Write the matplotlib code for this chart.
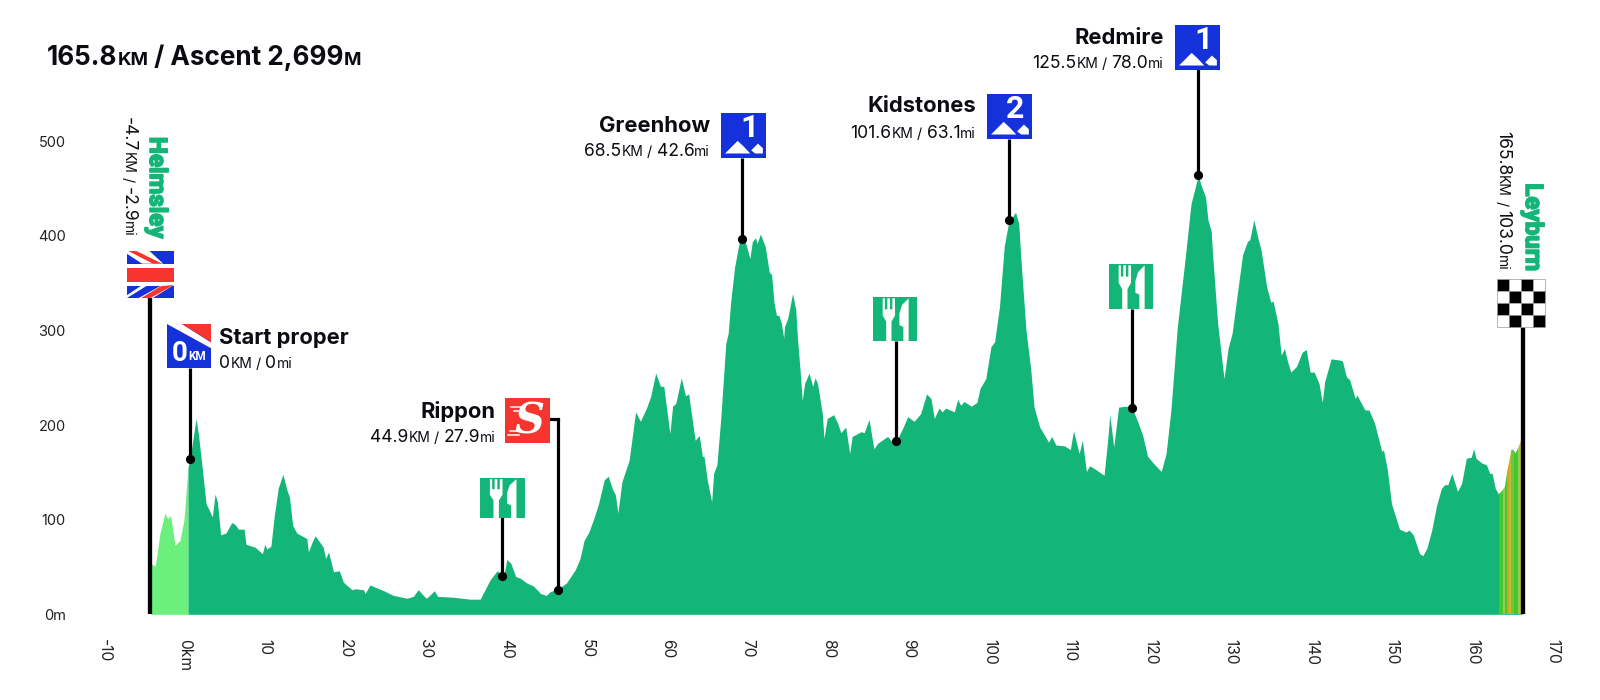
import numpy as np
import matplotlib
matplotlib.use('Agg')
import matplotlib.pyplot as plt
import matplotlib.patheffects as pe
from matplotlib.patches import Polygon, Rectangle
from matplotlib.transforms import ScaledTranslation

# route profile, km from official start / metres
route_km = [-4.7, -4.06, -3.48, -2.86, -2.53, -2.15, -1.62, -1.0, -0.5, 0.0, 0.2, 0.5, 1.0, 1.3, 1.7, 2.24, 2.53,
            3.02, 3.36, 3.65, 4.06, 4.72, 5.43, 5.85, 6.26, 6.97, 7.2, 8.33, 9.24, 9.54, 9.79, 10.3, 10.7, 11.2,
            11.78, 12.3, 12.6, 13.0, 13.5, 14.76, 14.96, 15.4, 15.8, 16.8, 17.1, 17.46, 18.07, 18.8, 19.3, 20.36,
            20.8, 21.8, 22.0, 22.6, 24.3, 25.5, 27.2, 28.0, 28.6, 29.35, 29.6, 29.9, 30.6, 31.0, 33.0, 35.0, 36.3,
            36.9, 37.5, 38.4, 39.05, 39.2, 39.6, 40.1, 40.7, 41.3, 42.1, 42.9, 43.8, 44.5, 45.0, 46.0, 47.0, 48.1,
            48.7, 49.2, 49.8, 50.4, 51.0, 51.7, 52.2, 52.7, 53.1, 53.4, 53.9, 54.8, 55.6, 56.2, 57.0, 57.46, 58.1,
            58.7, 59.1, 59.86, 60.2, 60.6, 61.28, 61.8, 62.2, 62.4, 63.0, 63.5, 63.9, 64.1, 64.5, 65.05, 65.3,
            65.7, 66.2, 66.8, 67.1, 67.4, 67.9, 68.45, 68.8, 69.2, 69.45, 69.8, 70.1, 70.5, 70.7, 71.1, 71.7,
            72.2, 72.5, 72.8, 73.1, 73.4, 73.7, 74.0, 74.1, 74.5, 75.1, 75.5, 75.7, 76.1, 76.3, 76.6, 77.15,
            77.6, 77.9, 78.2, 78.8, 79.0, 79.4, 80.2, 80.7, 81.1, 81.7, 82.2, 82.5, 83.6, 84.0, 84.6, 85.2, 85.7,
            86.9, 87.5, 88.0, 88.8, 89.4, 90.2, 91.0, 91.75, 92.3, 92.7, 93.3, 93.7, 94.1, 95.2, 95.6, 96.0, 96.4,
            97.3, 98.0, 98.4, 99.1, 99.75, 100.2, 100.8, 101.4, 102.0, 102.4, 102.8, 103.2, 103.5, 104.1, 104.7,
            105.1, 105.8, 106.9, 107.3, 107.8, 108.9, 109.6, 110.0, 110.7, 111.1, 111.6, 112.0, 112.6, 113.8,
            114.3, 114.5, 115.0, 115.6, 116.5, 117.3, 118.0, 118.6, 119.2, 120.0, 120.9, 121.5, 122.1, 122.9,
            123.8, 124.6, 125.5, 125.8, 126.4, 126.7, 127.1, 127.3, 127.9, 128.7, 129.2, 129.7, 130.4, 131.0,
            131.6, 131.9, 132.4, 132.9, 133.3, 134.0, 134.5, 134.8, 135.4, 135.8, 136.2, 136.6, 137.0, 137.7,
            138.4, 138.9, 139.4, 139.9, 140.5, 140.9, 141.2, 142.0, 142.9, 143.4, 143.9, 144.3, 145.0, 145.2,
            146.2, 146.7, 147.4, 148.3, 148.5, 149.0, 149.5, 150.5, 151.3, 151.7, 152.2, 153.0, 153.4, 153.9,
            154.5, 155.1, 155.7, 156.1, 156.5, 157.0, 157.7, 158.2, 158.8, 159.4, 159.7, 160.0, 160.7, 161.3,
            161.7, 162.0, 162.4, 162.8, 163.2, 163.6, 163.9, 164.4, 164.6, 164.9, 165.3, 165.8]
route_m = [54, 51, 86, 107, 101, 104, 73, 78, 100, 155, 164, 178, 207, 190, 160, 117, 112,
           103, 127, 119, 84, 86, 97, 95, 90, 90, 74, 71, 64, 74, 69, 72, 103, 133,
           148, 131, 124, 94, 86, 80, 66, 76, 83, 71, 59, 66, 45, 46, 34, 26,
           27, 26, 22, 31, 25, 20, 17, 19, 26, 19, 17, 19, 25, 19, 18, 16, 16,
           26, 36, 46, 41, 39, 58, 54, 40, 38, 33, 30, 22, 20, 24, 27, 33, 47,
           59, 78, 87, 101, 117, 142, 146, 133, 126, 107, 140, 163, 214, 204, 219, 230, 255,
           241, 241, 191, 220, 223, 250, 231, 233, 220, 184, 189, 167, 167, 142, 119, 149,
           158, 209, 286, 297, 329, 367, 392, 397, 394, 387, 376, 394, 398, 392, 402, 389,
           362, 359, 329, 316, 316, 308, 292, 304, 313, 339, 322, 293, 251, 226, 244, 255,
           241, 250, 244, 212, 186, 207, 211, 202, 192, 198, 170, 188, 193, 192, 206, 175, 181,
           188, 182, 183, 197, 209, 204, 212, 233, 228, 207, 218, 214, 218, 214, 227, 221, 225,
           220, 224, 239, 249, 283, 288, 325, 389, 417, 420, 425, 413, 371, 300, 258,
           219, 198, 182, 188, 179, 178, 174, 194, 170, 184, 151, 157, 154, 147,
           189, 211, 177, 219, 220, 218, 203, 189, 167, 159, 151, 170, 216, 304,
           371, 434, 464, 455, 441, 417, 405, 378, 308, 249, 281, 297, 342, 380,
           394, 396, 417, 398, 385, 346, 330, 331, 307, 274, 281, 267, 256, 262,
           277, 280, 256, 256, 244, 224, 246, 270, 269, 268, 251, 248, 228, 232,
           216, 216, 202, 172, 174, 152, 117, 90, 87, 89, 84, 64, 62, 70,
           89, 115, 133, 137, 137, 149, 130, 138, 165, 166, 175, 165, 160, 158,
           149, 149, 133, 127, 130, 135, 152, 174, 174, 170, 177, 188]

x_ticks = list(range(-10, 180, 10))
x_tick_labels = ['-10', '0km'] + [str(v) for v in range(10, 180, 10)]
y_ticks = [0, 100, 200, 300, 400, 500]
y_tick_labels = ['0m', '100', '200', '300', '400', '500']

# steep finish stripes: edges in km and one colour for each stripe
finish_edges = [162.8, 163.4, 163.6, 163.8, 164.1, 164.35, 164.75, 165.25, 165.45, 165.8]
finish_colors = ['#45c72d', '#8fce5a', '#45c72d', '#d6a024', '#b9bd35', '#6cc73f', '#45c72d', '#8fce5a', '#c4bc3c']

climb_names = ['Greenhow', 'Kidstones', 'Redmire']
climb_cat = ['1', '2', '1']
climb_km = [68.8, 102.0, 125.5]
climb_m = [397, 417, 464]
climb_km_text = ['68.5', '101.6', '125.5']
climb_mi_text = ['42.6', '63.1', '78.0']

feed_km = [39.05, 88.0, 117.3]
feed_m = [41, 183, 218]

start_km, start_m = 0.2, 164
sprint_km, sprint_m = 46.0, 26
first_km, last_km = -4.7, 165.8

GREEN = '#13b579'
LIGHT = '#6bf07d'
BLUE = '#1532da'
RED = '#f5352e'
INK = '#0b0b12'
SANS = ['Inter', 'DejaVu Sans']
NARROW = ['Roboto', 'DejaVu Sans']

W, H = 1600, 700
X0, X_SCALE = 188.0, 8.05     # pixel of km 0, pixels per km
Y0, Y_SCALE = 614.3, 0.946    # pixel of 0 m, pixels per metre

fig = plt.figure(figsize=(W / 100, H / 100), dpi=100, facecolor='white')
left = X0 - 10 * X_SCALE
ax = fig.add_axes([left / W, (H - Y0) / H, 180 * X_SCALE / W, 640 * Y_SCALE / H])
ax.set_xlim(-10, 170)
ax.set_ylim(0, 640)
ax.patch.set_alpha(0)
for s in ax.spines.values():
    s.set_visible(False)

km = np.array(route_km)
elev = np.array(route_m)

ax.fill_between(km, 0, elev, where=km <= 0, color=LIGHT, lw=0, interpolate=False)
area = ax.fill_between(km, 0, elev, where=km >= 0, color=GREEN, lw=0, interpolate=False)
clip = area.get_paths()[0]
for a, b, c in zip(finish_edges[:-1], finish_edges[1:], finish_colors):
    span = ax.axvspan(a, b, color=c, lw=0)
    span.set_clip_path(clip, ax.transData)

ax.set_xticks(x_ticks)
ax.set_xticklabels(x_tick_labels, rotation=-90, family=SANS, fontsize=11.2, color='#222222')
ax.set_yticks(y_ticks)
ax.set_yticklabels(y_tick_labels, family=SANS, fontsize=10.5, color='#222222')
ax.tick_params(axis='x', length=0, pad=18)
ax.tick_params(axis='y', length=0, pad=30)
shift = ScaledTranslation(-3.5 / 72 * 0.72, 0, fig.dpi_scale_trans)
for lab in ax.get_xticklabels():
    lab.set_transform(lab.get_transform() + shift)


def m_at(py):
    return (Y0 - py) / Y_SCALE


# stems and dots
def stem(k, m, top_px, lw=2.3):
    ax.plot([k, k], [m, m_at(top_px)], color='black', lw=lw, solid_capstyle='butt', clip_on=False, zorder=5)
    ax.plot([k], [m], 'o', color='black', ms=6.6, mew=0, clip_on=False, zorder=6)


ax.plot([first_km, first_km], [0, m_at(298)], color='black', lw=3.1, solid_capstyle='butt', zorder=5, clip_on=False)
ax.plot([last_km, last_km], [0, m_at(326)], color='black', lw=3.1, solid_capstyle='butt', zorder=5, clip_on=False)
stem(start_km, start_m, 368)
for k, m, top in zip(feed_km, feed_m, [517, 341, 309]):
    stem(k, m, top)
for k, m, top in zip(climb_km, climb_m, [158, 139, 69]):
    stem(k, m, top)
stem(sprint_km, sprint_m, 419)
ax.plot([sprint_km, sprint_km - 1.1], [m_at(419), m_at(419)], color='black', lw=2.3, clip_on=False, zorder=5)

# overlay in pixel space for the icons and the mixed size labels
ov = fig.add_axes([0, 0, 1, 1])
ov.set_xlim(0, W)
ov.set_ylim(H, 0)
ov.axis('off')
rend = fig.canvas.get_renderer()


def run_width(s, size, weight, family):
    t1 = ov.text(0, 0, 'x' + s + 'x', fontsize=size, fontweight=weight, family=family)
    t2 = ov.text(0, 0, 'xx', fontsize=size, fontweight=weight, family=family)
    w = t1.get_window_extent(rend).width - t2.get_window_extent(rend).width
    t1.remove()
    t2.remove()
    return w


def put_runs(x, y, runs, align='left', vertical=False, color=INK, family=SANS, stroke=0):
    widths = [run_width(s, size, weight, family) for s, size, weight in runs]
    total = sum(widths)
    pos = y if vertical else x
    if align == 'right':
        pos -= total
    for (s, size, weight), w in zip(runs, widths):
        px, py = (x, pos) if vertical else (pos, y)
        t = ov.text(px, py, s, fontsize=size, fontweight=weight, family=family, color=color, ha='left', va='baseline',
                    rotation=-90 if vertical else 0, rotation_mode='anchor')
        if stroke:
            t.set_path_effects([pe.withStroke(linewidth=stroke, foreground=color)])
        pos += w


def dist_runs(km_text, mi_text, big=12.6, small=10):
    return [(km_text, big, 'normal'), ('KM', small, 'normal'), (' / ', 10.4, 'normal'),
            (mi_text, big, 'normal'), ('mi', small, 'normal')]


def poly(x, y, w, h, pts, color='white'):
    ov.add_patch(Polygon([(x + w * a, y + h * b) for a, b in pts], closed=True, fc=color, ec='none'))


def feed_icon(x, y, w=44, h=44):
    ov.add_patch(Rectangle((x, y), w, h, fc=GREEN, ec='none'))
    poly(x, y, w, h, [(.22, .03), (.27, .03), (.27, .28), (.325, .28), (.325, .03), (.385, .03), (.385, .28),
                      (.44, .28), (.44, .03), (.50, .03), (.50, .42), (.42, .56), (.42, 1), (.30, 1), (.30, .56),
                      (.22, .42)])
    poly(x, y, w, h, [(.81, .03), (.81, 1), (.69, 1), (.69, .68), (.60, .64), (.60, .38), (.66, .18)])


def climb_icon(x, y, cat, w=45, h=45):
    ov.add_patch(Rectangle((x, y), w, h, fc=BLUE, ec='none'))
    poly(x, y, w, h, [(.09, .9), (.37, .62), (.50, .74), (.65, .9)])
    poly(x, y, w, h, [(.67, .83), (.82, .68), (.93, .78), (.93, .9), (.76, .9)])
    ov.text(x + .63 * w, y + .33 * h, cat, color='white', fontsize=23, fontweight='bold', family=NARROW,
            ha='center', va='center')


# title
put_runs(47, 65, [('165.8', 18.8, 'bold'), ('KM', 13.5, 'bold'), (' / Ascent 2,699', 18.8, 'bold'), ('M', 13.5, 'bold')])

# start of the road section
put_runs(150, 238, [('Helmsley', 17.4, 'bold')], align='right', vertical=True, color=GREEN, family=NARROW, stroke=1.2)
put_runs(123.5, 237, dist_runs('-4.7', '-2.9'), align='right', vertical=True)
fx, fy, fs = 127, 251, 47
ov.add_patch(Rectangle((fx, fy), fs, fs, fc=BLUE, ec='none'))
poly(fx, fy, fs, fs, [(0, 0), (.48, 0), (.77, .27), (.32, .27), (0, .06)])
poly(fx, fy, fs, fs, [(0, .27), (1, .27), (1, .74), (0, .74)])
poly(fx, fy, fs, fs, [(0, .94), (.30, .74), (.42, .74), (0, 1)])
poly(fx, fy, fs, fs, [(.25, 1), (.72, .74), (1, .74), (1, .72), (.55, 1)])
poly(fx, fy, fs, fs, [(0, .37), (1, .37), (1, .65), (0, .65)], RED)
poly(fx, fy, fs, fs, [(.03, 0), (.2, 0), (.75, .27), (.55, .27)], RED)
poly(fx, fy, fs, fs, [(.3, 1), (.72, .75), (1, .72), (.5, 1)], RED)

# official start
sx, sy, ss = 167, 324, 44
ov.add_patch(Rectangle((sx, sy), ss, ss, fc=BLUE, ec='none'))
poly(sx, sy, ss, ss, [(0, 0), (.34, 0), (1, .42), (1, .55)])
poly(sx, sy, ss, ss, [(.34, 0), (1, 0), (1, .42)], RED)
ov.text(sx + .29 * ss, sy + .68 * ss, '0', color='white', fontsize=20, fontweight='bold', family=NARROW,
        ha='center', va='center')
ov.text(sx + .68 * ss, sy + .74 * ss, 'KM', color='white', fontsize=8.5, fontweight='bold', family=NARROW,
        ha='center', va='center')
put_runs(219.3, 344, [('Start proper', 15.8, 'bold')])
put_runs(219.3, 368, dist_runs('0', '0'))

# sprint
rx, ry = 505, 398
ov.add_patch(Rectangle((rx, ry), 45, 45, fc=RED, ec='none'))
ov.text(rx + 24, ry + 23, 'S', color='white', fontsize=30, fontweight='bold', style='italic',
        family=['DejaVu Serif'], ha='center', va='center')
for dy, x1, x2 in [(9, 6, 20), (13, 9, 20), (33, 5, 16), (37, 3, 14)]:
    ov.plot([rx + x1, rx + x2], [ry + dy, ry + dy], color='white', lw=1.1)
put_runs(496, 418.3, [('Rippon', 15.8, 'bold')], align='right')
put_runs(496, 442.3, dist_runs('44.9', '27.9'), align='right')

# feed zones
feed_icon(480, 478, 45, 40)
feed_icon(873, 297)
feed_icon(1109, 264, 44, 45)

# climbs
climb_xy = [(721, 113), (987, 94), (1175, 25)]
for (cx, cy), name, cat, kt, mt in zip(climb_xy, climb_names, climb_cat, climb_km_text, climb_mi_text):
    climb_icon(cx, cy, cat)
    put_runs(cx - 11, cy + 18.5, [(name, 15.8, 'bold')], align='right')
    put_runs(cx - 11, cy + 43.5, dist_runs(kt, mt), align='right')

# finish
put_runs(1526, 270.7, [('Leyburn', 17.4, 'bold')], align='right', vertical=True, color=GREEN, family=NARROW, stroke=1.2)
put_runs(1498, 270.7, dist_runs('165.8', '103.0'), align='right', vertical=True)
cx0, cy0, cell = 1497, 279, 12
for r in range(4):
    for c in range(4):
        fc = 'black' if (r + c) % 2 == 0 else 'white'
        ov.add_patch(Rectangle((cx0 + c * cell, cy0 + r * cell), cell, cell, fc=fc, ec='#999999', lw=0.5))

fig.savefig('out.png', dpi=100, facecolor='white')
